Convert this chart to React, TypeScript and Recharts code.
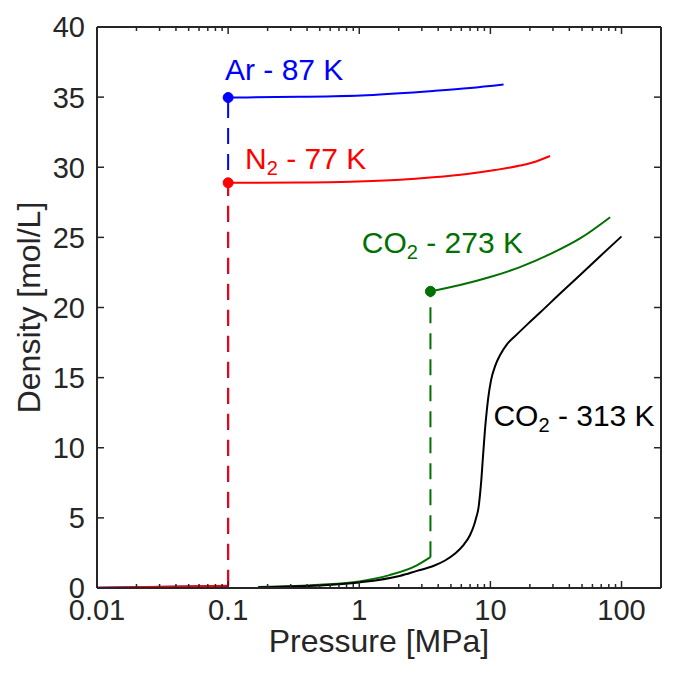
import React from 'react';
import { LineChart, Line, XAxis, YAxis, ReferenceDot, Label } from 'recharts';

const FONT = '"Liberation Sans", Arial, Helvetica, sans-serif';
const AXIS = '#262626';
const BLUE = '#0000FF';
const RED = '#FF0000';
const GREEN = '#007000';
const BLACK = '#000000';

// Tick values
const xMajorTicks = [0.01, 0.1, 1, 10, 100];
const xMinorTicks = [
  0.02, 0.03, 0.04, 0.05, 0.06, 0.07, 0.08, 0.09,
  0.2, 0.3, 0.4, 0.5, 0.6, 0.7, 0.8, 0.9,
  2, 3, 4, 5, 6, 7, 8, 9,
  20, 30, 40, 50, 60, 70, 80, 90,
];
const xAllTicks = [...xMajorTicks, ...xMinorTicks].sort((a, b) => a - b);
const yTicks = [0, 5, 10, 15, 20, 25, 30, 35, 40];

// Ar - 87 K  (pressure MPa, density mol/L)
const arGas = [{ x: 0.01, y: 0.014 }, { x: 0.1, y: 0.14 }];
const arJump = [{ x: 0.1, y: 0.14 }, { x: 0.1, y: 34.97 }];
const arLiquid = [
  { x: 0.1, y: 34.97 }, { x: 0.35, y: 35.02 }, { x: 1.14, y: 35.14 },
  { x: 3.67, y: 35.44 }, { x: 7, y: 35.65 }, { x: 12.6, y: 35.9 },
];

// N2 - 77 K
const n2Gas = [{ x: 0.01, y: 0.016 }, { x: 0.1, y: 0.16 }];
const n2Jump = [{ x: 0.1, y: 0.16 }, { x: 0.1, y: 28.89 }];
const n2Liquid = [
  { x: 0.1, y: 28.89 }, { x: 0.353, y: 28.91 }, { x: 0.851, y: 28.96 },
  { x: 2.05, y: 29.1 }, { x: 3.66, y: 29.28 }, { x: 6.64, y: 29.52 },
  { x: 10.86, y: 29.8 }, { x: 16.85, y: 30.12 }, { x: 22.3, y: 30.41 },
  { x: 28.5, y: 30.8 },
];

// CO2 - 273 K
const co2ColdGas = [
  { x: 0.17, y: 0.075 }, { x: 0.5, y: 0.23 }, { x: 1, y: 0.47 },
  { x: 1.7, y: 0.92 }, { x: 2.75, y: 1.62 }, { x: 3.49, y: 2.2 },
];
const co2ColdJump = [{ x: 3.49, y: 2.2 }, { x: 3.49, y: 21.15 }];
const co2ColdLiquid = [
  { x: 3.49, y: 21.15 }, { x: 5.87, y: 21.6 }, { x: 9.95, y: 22.17 },
  { x: 16.8, y: 22.88 }, { x: 28.5, y: 23.8 }, { x: 48.6, y: 24.94 },
  { x: 81.9, y: 26.44 },
];

// CO2 - 313 K (supercritical)
const co2Warm = [
  { x: 0.17, y: 0.05 }, { x: 0.3, y: 0.1 }, { x: 0.5, y: 0.18 },
  { x: 1, y: 0.4 }, { x: 2.03, y: 0.86 }, { x: 2.75, y: 1.22 },
  { x: 3.67, y: 1.57 }, { x: 4.51, y: 1.96 }, { x: 5.38, y: 2.46 },
  { x: 6.23, y: 3.06 }, { x: 7.0, y: 3.78 }, { x: 7.51, y: 4.49 },
  { x: 7.78, y: 4.99 }, { x: 8.1, y: 5.67 }, { x: 8.34, y: 6.7 },
  { x: 8.54, y: 7.77 }, { x: 8.72, y: 8.98 }, { x: 8.91, y: 10.19 },
  { x: 9.11, y: 11.37 }, { x: 9.36, y: 12.54 }, { x: 9.65, y: 13.63 },
  { x: 10.12, y: 14.82 }, { x: 10.86, y: 15.82 }, { x: 11.86, y: 16.61 },
  { x: 13.41, y: 17.39 }, { x: 15.71, y: 18.03 }, { x: 19.05, y: 18.78 },
  { x: 23.93, y: 19.64 }, { x: 34.02, y: 21.0 }, { x: 48.33, y: 22.32 },
  { x: 68.68, y: 23.66 }, { x: 100, y: 25.07 },
];

const MAJOR_LEN = 7;
const MINOR_LEN = 4;

const BottomTick = (props: any) => {
  const { x, y, payload } = props;
  const v = payload.value;
  const major = xMajorTicks.includes(v);
  return (
    <g>
      <line x1={x} x2={x} y1={y} y2={y - (major ? MAJOR_LEN : MINOR_LEN)} stroke={AXIS} strokeWidth={1.5} />
      {major && (
        <text x={x} y={y + 32} textAnchor="middle" fontSize={29} fontFamily={FONT} fill={AXIS}>
          {String(v)}
        </text>
      )}
    </g>
  );
};

const TopTick = (props: any) => {
  const { x, y, payload } = props;
  const major = xMajorTicks.includes(payload.value);
  return (
    <line x1={x} x2={x} y1={y} y2={y + (major ? MAJOR_LEN : MINOR_LEN)} stroke={AXIS} strokeWidth={1.5} />
  );
};

const LeftTick = (props: any) => {
  const { x, y, payload } = props;
  return (
    <g>
      <line x1={x} x2={x + MAJOR_LEN} y1={y} y2={y} stroke={AXIS} strokeWidth={1.5} />
      <text x={x - 12} y={y} dy="0.36em" textAnchor="end" fontSize={29} fontFamily={FONT} fill={AXIS}>
        {String(payload.value)}
      </text>
    </g>
  );
};

const RightTick = (props: any) => {
  const { x, y } = props;
  return <line x1={x} x2={x - MAJOR_LEN} y1={y} y2={y} stroke={AXIS} strokeWidth={1.5} />;
};

const firstDot = (color: string) => (p: any) =>
  p.index === 0 ? (
    <circle key={`d-${color}-${p.index}`} cx={p.cx} cy={p.cy} r={5} fill={color} stroke={color} />
  ) : (
    <g key={`d-${color}-${p.index}`} />
  );

const annot = (content: React.ReactNode, color: string) => (p: any) => (
  <text x={p.cx} y={p.cy} fontSize={30} fontFamily={FONT} fill={color}>
    {content}
  </text>
);

const withSub = (main: string, sub: string, rest: string) => (
  <>
    <tspan>{main}</tspan>
    <tspan fontSize={20} dy={6}>{sub}</tspan>
    <tspan dy={-6}>{rest}</tspan>
  </>
);

const DASH = '16 10';

export default function App() {
  const common = { xAxisId: 'b', yAxisId: 'l', dataKey: 'y', isAnimationActive: false, activeDot: false as const };
  return (
    <div style={{ position: 'absolute', left: 0, top: 0, background: '#fff' }}>
      <LineChart width={685} height={673} margin={{ top: 26, right: 23, bottom: 0, left: 0 }}>
        <XAxis
          xAxisId="b"
          dataKey="x"
          type="number"
          scale="log"
          domain={[0.01, 200]}
          allowDataOverflow
          ticks={xAllTicks}
          interval={0}
          tickSize={0}
          tickMargin={0}
          tickLine={false}
          tick={<BottomTick />}
          height={85}
          axisLine={{ stroke: AXIS, strokeWidth: 2 }}
        >
          <Label
            value="Pressure [MPa]"
            position="insideBottom"
            offset={21}
            style={{ fontSize: 32, fontFamily: FONT, fill: AXIS }}
          />
        </XAxis>
        <XAxis
          xAxisId="t"
          orientation="top"
          dataKey="x"
          type="number"
          scale="log"
          domain={[0.01, 200]}
          allowDataOverflow
          ticks={xAllTicks}
          interval={0}
          tickSize={0}
          tickMargin={0}
          tickLine={false}
          tick={<TopTick />}
          height={1}
          axisLine={{ stroke: AXIS, strokeWidth: 2 }}
        />
        <YAxis
          yAxisId="l"
          type="number"
          domain={[0, 40]}
          allowDataOverflow
          ticks={yTicks}
          interval={0}
          tickSize={0}
          tickMargin={0}
          tickLine={false}
          tick={<LeftTick />}
          width={97}
          axisLine={{ stroke: AXIS, strokeWidth: 2 }}
        >
          <Label
            value="Density [mol/L]"
            angle={-90}
            position="insideLeft"
            offset={29}
            style={{ fontSize: 32, fontFamily: FONT, fill: AXIS, textAnchor: 'middle' }}
          />
        </YAxis>
        <YAxis
          yAxisId="r"
          orientation="right"
          type="number"
          domain={[0, 40]}
          allowDataOverflow
          ticks={yTicks}
          interval={0}
          tickSize={0}
          tickMargin={0}
          tickLine={false}
          tick={<RightTick />}
          width={1}
          axisLine={{ stroke: AXIS, strokeWidth: 2 }}
        />

        {/* invisible series bound to the top/right frame axes */}
        <Line xAxisId="t" yAxisId="r" dataKey="y" data={arGas} stroke="none" dot={false}
          activeDot={false} isAnimationActive={false} legendType="none" />

        {/* Ar - 87 K */}
        <Line {...common} data={arGas} type="linear" stroke={BLUE} strokeWidth={2} dot={false} />
        <Line {...common} data={arJump} type="linear" stroke={BLUE} strokeWidth={2} strokeDasharray={DASH} dot={false} />
        <Line {...common} data={arLiquid} type="monotone" stroke={BLUE} strokeWidth={2} dot={firstDot(BLUE)} />

        {/* N2 - 77 K */}
        <Line {...common} data={n2Gas} type="linear" stroke={RED} strokeWidth={2} dot={false} />
        <Line {...common} data={n2Jump} type="linear" stroke={RED} strokeWidth={2} strokeDasharray={DASH} dot={false} />
        <Line {...common} data={n2Liquid} type="monotone" stroke={RED} strokeWidth={2} dot={firstDot(RED)} />

        {/* CO2 - 273 K */}
        <Line {...common} data={co2ColdGas} type="monotone" stroke={GREEN} strokeWidth={2} dot={false} />
        <Line {...common} data={co2ColdJump} type="linear" stroke={GREEN} strokeWidth={2} strokeDasharray={DASH} dot={false} />
        <Line {...common} data={co2ColdLiquid} type="monotone" stroke={GREEN} strokeWidth={2} dot={firstDot(GREEN)} />

        {/* CO2 - 313 K */}
        <Line {...common} data={co2Warm} type="monotone" stroke={BLACK} strokeWidth={2} dot={false} />

        {/* Annotations */}
        <ReferenceDot xAxisId="b" yAxisId="l" x={0.0946} y={36.2} r={0} ifOverflow="visible"
          shape={annot('Ar - 87 K', BLUE)} />
        <ReferenceDot xAxisId="b" yAxisId="l" x={0.1345} y={29.84} r={0} ifOverflow="visible"
          shape={annot(withSub('N', '2', ' - 77 K'), RED)} />
        <ReferenceDot xAxisId="b" yAxisId="l" x={1.045} y={23.86} r={0} ifOverflow="visible"
          shape={annot(withSub('CO', '2', ' - 273 K'), GREEN)} />
        <ReferenceDot xAxisId="b" yAxisId="l" x={10.55} y={11.55} r={0} ifOverflow="visible"
          shape={annot(withSub('CO', '2', ' - 313 K'), BLACK)} />
      </LineChart>
    </div>
  );
}
